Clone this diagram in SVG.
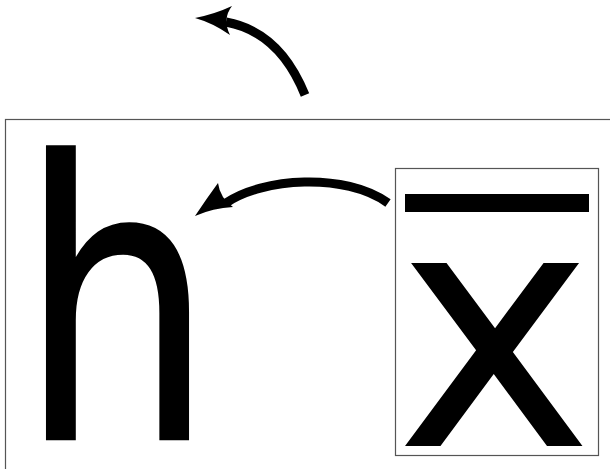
<svg xmlns="http://www.w3.org/2000/svg" width="610" height="469" viewBox="0 0 610 469">
<style>
.frame{fill:none;stroke:#555;stroke-width:1.2}
.glyph{font-family:"DejaVu Sans",sans-serif;fill:#000}
.shaft{fill:none;stroke:#000;stroke-width:9}
.head{fill:#000}
</style>
<rect width="610" height="469" fill="#fff"/>
<g id="outer"><rect class="frame" x="5.5" y="119.5" width="700" height="400"/></g>
<g id="h-node"><text class="glyph" transform="translate(19,439) scale(0.8,1)" font-size="385" stroke="#000" stroke-width="2.5">h</text></g>
<g id="xbar-node">
<rect class="frame" x="395.5" y="168.5" width="203" height="287"/>
<rect x="405" y="194" width="184" height="18" fill="#000"/>
<text class="glyph" x="395.4" y="446" font-size="334.6">x</text>
</g>
<g id="connectors">
<path class="shaft" d="M305,95 C293,65 270,30 226,22"/>
<path class="head" d="M195,18 Q215,14 232,6 Q222,19 230,35 Q213,23 195,18 Z"/>
<path class="shaft" d="M388,203 C345,172 262,178 226,203"/>
<path class="head" d="M195,216 Q207,198 218,183 Q220,198 233,207 Q213,208 195,216 Z"/>
</g>
</svg>
